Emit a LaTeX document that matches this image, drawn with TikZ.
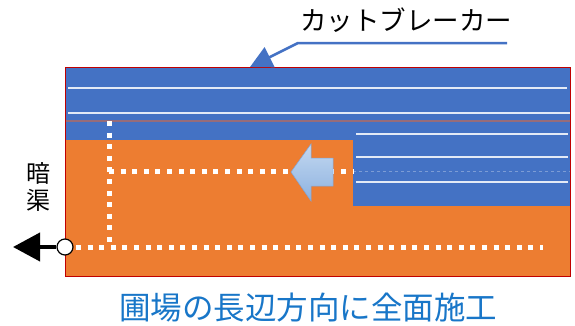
\documentclass[tikz,border=0pt]{standalone}
\usepackage{fontspec}
\usepackage{tkz-euclide}
\usetikzlibrary{arrows.meta}
\newfontfamily\jpfont{Noto Sans CJK JP}
\tikzset{>=stealth}
\definecolor{fieldorange}{RGB}{237,125,49}
\definecolor{cutblue}{RGB}{68,114,196}
\definecolor{edgered}{RGB}{192,0,0}
\definecolor{seamline}{RGB}{150,108,122}
\definecolor{titleblue}{RGB}{24,118,200}
\definecolor{arrowlight}{RGB}{196,216,240}
\definecolor{arrowdark}{RGB}{140,178,224}
\tikzset{
  groove/.style={draw=white!85!cutblue, line width=1.1pt},
  drainline/.style={white, line width=5pt, dash pattern=on 5pt off 6.6pt},
}

\begin{document}
\begin{tikzpicture}[x=10pt,y=10pt]
\useasboundingbox (0,0) rectangle (57.5,32.5);
\tkzDefPoints{6.5/4.9/A, 57/4.9/B, 57/25.8/C, 6.5/25.8/D}
% field and cut part
\fill[fieldorange] (A) rectangle (C);
\fill[cutblue] (6.5,18.5) rectangle (C);
\fill[cutblue] (35.3,11.9) rectangle (57,18.5);
\draw[groove] (6.8,23.7) -- (56.7,23.7);
\draw[groove] (6.8,21.2) -- (57,21.2);
\draw[seamline, line width=1.2pt] (6.5,20.4) -- (57,20.4);
\foreach \y in {19.1,16.8,14.3}
  \draw[groove] (35.6,\y) -- (56.8,\y);
\draw[white, opacity=0.3, line width=1pt, dashed] (35.3,15.4) -- (57,15.4);
\draw[edgered, line width=0.8pt] (A) rectangle (C);
% drains
\draw[drainline] (10.9,20.4) -- (10.9,7.8);
\draw[drainline] (10.9,15.4) -- (35.3,15.4);
\draw[drainline, dash phase=-1pt] (7.5,7.8) -- (54.3,7.8);
% direction of work
\tkzDefPoints{29.1/15.3/P, 31.1/18.1/Q, 31.1/16.7/R, 33.3/16.7/S,
  33.3/13.9/T, 31.1/13.9/U, 31.1/12.4/V}
\shade[top color=arrowlight, bottom color=arrowdark, draw=arrowdark!80!cutblue,
  line width=0.5pt] (P) -- (Q) -- (R) -- (S) -- (T) -- (U) -- (V) -- cycle;
% outlet
\node[circle, draw=black, fill=white, line width=1.2pt, minimum size=16pt,
  inner sep=0pt] (outlet) at (6.5,7.8) {};
\coordinate (drainend) at (1.3,7.8);
\draw[line width=4pt, -{Triangle[length=27pt,width=28pt]}] (outlet.west) -- (drainend);
\node[font=\jpfont\fontsize{24}{26.5}\selectfont, align=center] (drain) at (3.8,13.8) {暗\\渠};
% cut breaker label
\node[font=\jpfont\fontsize{26.5}{28}\selectfont] (cutlabel) at (40.6,30.5) {カットブレーカー};
\coordinate (cbend) at (50.7,28.2);
\coordinate (cbbend) at (29.8,28.2);
\coordinate (cbtip) at (25,25.8);
\draw[cutblue, line width=2.5pt, -{Triangle[length=22pt,width=22pt]}]
  (cbend) -- (cbbend) -- (cbtip);
\node[font=\jpfont\fontsize{31.5}{33}\selectfont, text=titleblue] (title) at (30.8,1.7)
  {圃場の長辺方向に全面施工};
\end{tikzpicture}
\end{document}
